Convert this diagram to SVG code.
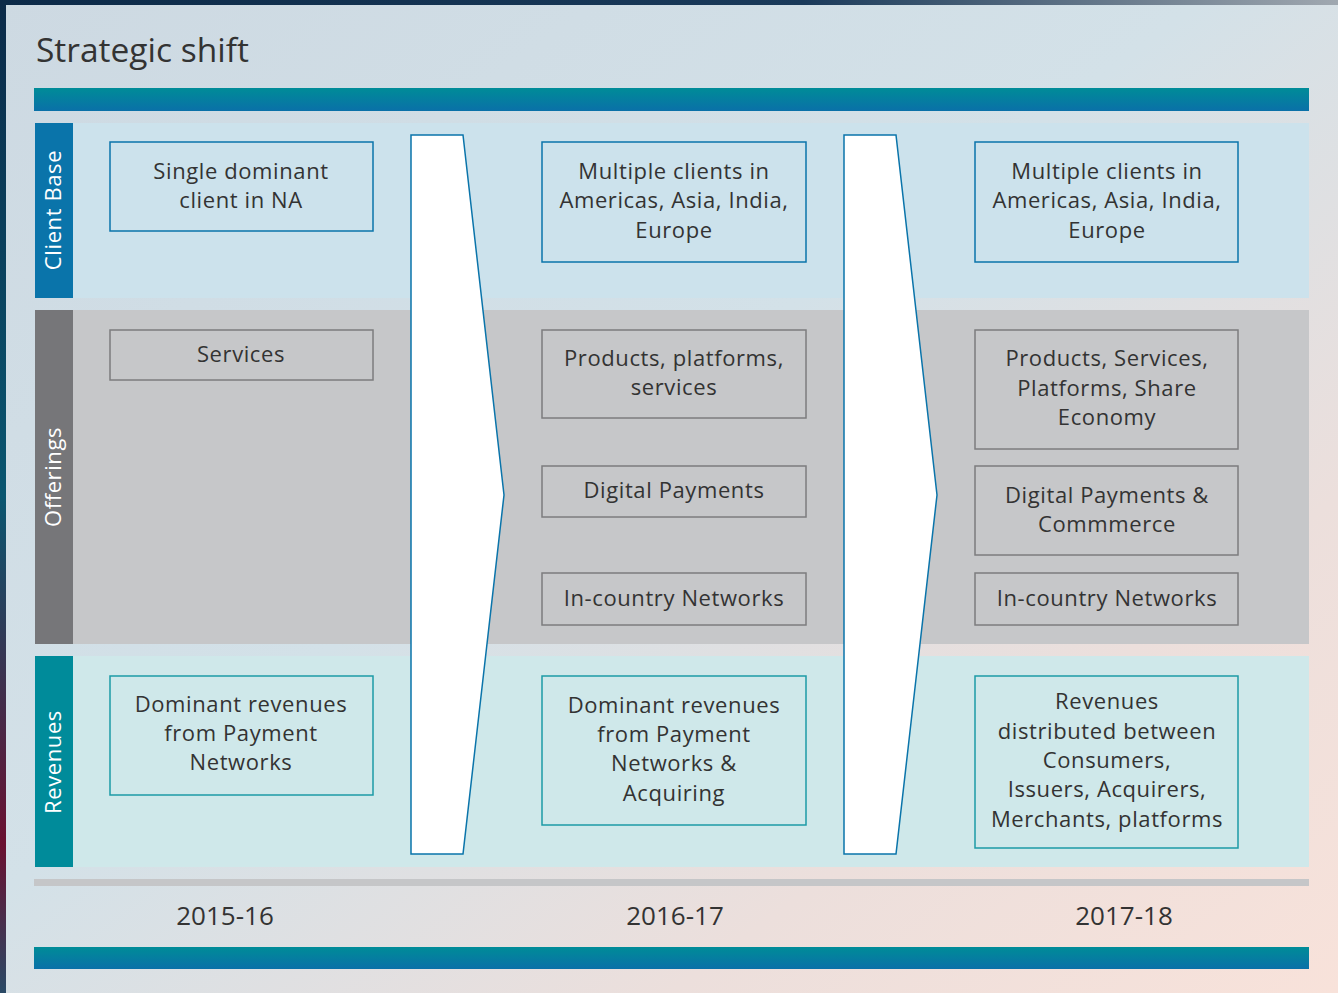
<svg xmlns="http://www.w3.org/2000/svg" width="1338" height="993" viewBox="0 0 1338 993">
<defs>
<linearGradient id="bg" x1="0" y1="0" x2="1" y2="1">
<stop offset="0" stop-color="#cdd9e2"/>
<stop offset="0.45" stop-color="#d3e1e8"/>
<stop offset="0.75" stop-color="#ecdfdc"/>
<stop offset="1" stop-color="#f8e2da"/>
</linearGradient>
<linearGradient id="bar" x1="0" y1="0" x2="0" y2="1">
<stop offset="0" stop-color="#008c98"/>
<stop offset="1" stop-color="#0a70a8"/>
</linearGradient>
<linearGradient id="edgeL" x1="0" y1="0" x2="0" y2="1">
<stop offset="0" stop-color="#0c2a48"/>
<stop offset="0.5" stop-color="#0a5670"/>
<stop offset="0.85" stop-color="#6a1030"/>
<stop offset="1" stop-color="#2a4a66"/>
</linearGradient>
<linearGradient id="edgeT" x1="0" y1="0" x2="1" y2="0">
<stop offset="0" stop-color="#0c2a48"/>
<stop offset="0.6" stop-color="#1a3a5a"/>
<stop offset="1" stop-color="#a0a8b0"/>
</linearGradient>
<style>
text{font-family:"Open Sans","Liberation Sans",sans-serif;fill:#333;}
.t{font-size:22px;letter-spacing:0.6px;text-anchor:middle;}
.lbl{font-size:22px;letter-spacing:0.6px;fill:#fff;text-anchor:middle;}
.yr{font-size:26px;text-anchor:middle;}
.cb{fill:none;stroke:#0a74aa;stroke-width:1.5;}
.of{fill:none;stroke:#7c7c7e;stroke-width:1.5;}
.rv{fill:none;stroke:#1c9aa6;stroke-width:1.5;}
.arr{fill:#fff;stroke:#0a74aa;stroke-width:1.5;}
</style>
</defs>
<rect width="1338" height="993" fill="url(#bg)"/>
<rect x="0" y="0" width="6" height="993" fill="url(#edgeL)"/>
<rect x="0" y="0" width="1338" height="5" fill="url(#edgeT)"/>
<text x="36" y="62" style="font-size:33.5px">Strategic shift</text>
<rect x="34" y="88" width="1275" height="23" fill="url(#bar)"/>
<g id="band-client">
<rect x="35" y="123" width="1274" height="175" fill="#cce2ec"/>
<rect x="35" y="123" width="38" height="175" fill="#0a74aa"/>
<text class="lbl" transform="translate(61,210) rotate(-90)">Client Base</text>
</g>
<g id="band-offerings">
<rect x="35" y="310" width="1274" height="334" fill="#c6c7c9"/>
<rect x="35" y="310" width="38" height="334" fill="#767679"/>
<text class="lbl" transform="translate(61,477) rotate(-90)">Offerings</text>
</g>
<g id="band-revenues">
<rect x="35" y="656" width="1274" height="211" fill="#cfe8ea"/>
<rect x="35" y="656" width="38" height="211" fill="#008b9a"/>
<text class="lbl" transform="translate(61,762) rotate(-90)">Revenues</text>
</g>
<rect x="34" y="879" width="1275" height="7" fill="#c5c6c8"/>
<rect x="34" y="947" width="1275" height="22" fill="url(#bar)"/>
<g id="connectors">
<polygon class="arr" points="411,135 463,135 504,495 463,854 411,854"/>
<polygon class="arr" points="844,135 896,135 937,495 896,854 844,854"/>
</g>
<g id="c1-client"><rect class="cb" x="110" y="142" width="263" height="89"/>
<text class="t" x="241" y="179">Single dominant</text><text class="t" x="241" y="208">client in NA</text></g>
<g id="c1-services"><rect class="of" x="110" y="330" width="263" height="50"/>
<text class="t" x="241" y="362">Services</text></g>
<g id="c1-rev"><rect class="rv" x="110" y="676" width="263" height="119"/>
<text class="t" x="241" y="712">Dominant revenues</text><text class="t" x="241" y="741">from Payment</text><text class="t" x="241" y="770">Networks</text></g>
<g id="c2-client"><rect class="cb" x="542" y="142" width="264" height="120"/>
<text class="t" x="674" y="179">Multiple clients in</text><text class="t" x="674" y="208">Americas, Asia, India,</text><text class="t" x="674" y="238">Europe</text></g>
<g id="c2-products"><rect class="of" x="542" y="330" width="264" height="88"/>
<text class="t" x="674" y="366">Products, platforms,</text><text class="t" x="674" y="395">services</text></g>
<g id="c2-digital"><rect class="of" x="542" y="466" width="264" height="51"/>
<text class="t" x="674" y="498">Digital Payments</text></g>
<g id="c2-incountry"><rect class="of" x="542" y="573" width="264" height="52"/>
<text class="t" x="674" y="606">In-country Networks</text></g>
<g id="c2-rev"><rect class="rv" x="542" y="676" width="264" height="149"/>
<text class="t" x="674" y="713">Dominant revenues</text><text class="t" x="674" y="742">from Payment</text><text class="t" x="674" y="771">Networks &amp;</text><text class="t" x="674" y="801">Acquiring</text></g>
<g id="c3-client"><rect class="cb" x="975" y="142" width="263" height="120"/>
<text class="t" x="1107" y="179">Multiple clients in</text><text class="t" x="1107" y="208">Americas, Asia, India,</text><text class="t" x="1107" y="238">Europe</text></g>
<g id="c3-products"><rect class="of" x="975" y="330" width="263" height="119"/>
<text class="t" x="1107" y="366">Products, Services,</text><text class="t" x="1107" y="396">Platforms, Share</text><text class="t" x="1107" y="425">Economy</text></g>
<g id="c3-digital"><rect class="of" x="975" y="466" width="263" height="89"/>
<text class="t" x="1107" y="503">Digital Payments &amp;</text><text class="t" x="1107" y="532">Commmerce</text></g>
<g id="c3-incountry"><rect class="of" x="975" y="573" width="263" height="52"/>
<text class="t" x="1107" y="606">In-country Networks</text></g>
<g id="c3-rev"><rect class="rv" x="975" y="676" width="263" height="172"/>
<text class="t" x="1107" y="709">Revenues</text><text class="t" x="1107" y="739">distributed between</text><text class="t" x="1107" y="768">Consumers,</text><text class="t" x="1107" y="797">Issuers, Acquirers,</text><text class="t" x="1107" y="827">Merchants, platforms</text></g>
<g id="years">
<text class="yr" x="225" y="925">2015-16</text>
<text class="yr" x="675" y="925">2016-17</text>
<text class="yr" x="1124" y="925">2017-18</text>
</g>
</svg>
